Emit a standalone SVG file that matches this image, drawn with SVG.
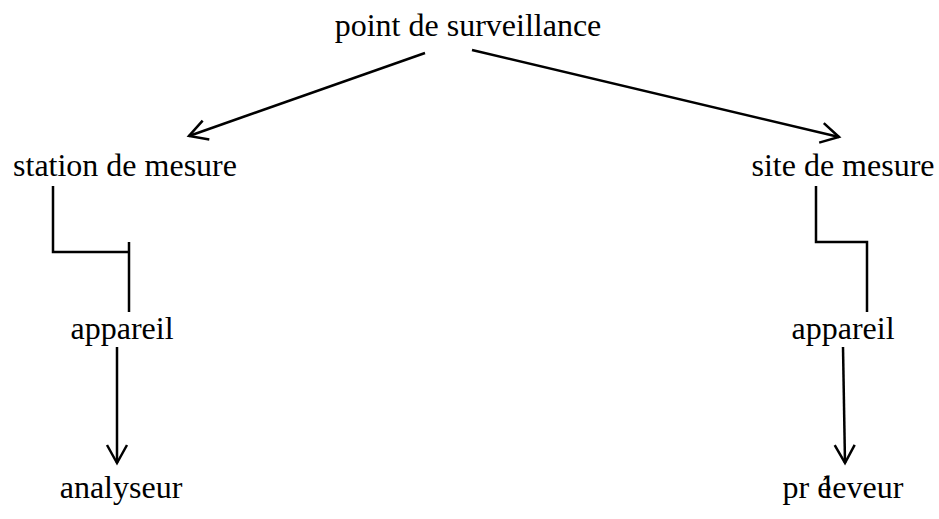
<svg xmlns="http://www.w3.org/2000/svg" width="939" height="519" viewBox="0 0 939 519">
<style>
text { font-family: "Liberation Serif", "Times New Roman", serif; font-size: 32px; fill: #000; text-anchor: middle; }
.c { fill: none; stroke: #000; stroke-width: 2.5; }
</style>
<defs>
<marker id="ah" markerUnits="userSpaceOnUse" markerWidth="40" markerHeight="40" viewBox="-25 -20 40 40" refX="0" refY="0" orient="auto">
<path d="M-18,-10 L0,0 L-18,10" fill="none" stroke="#000" stroke-width="2.5"/>
</marker>
</defs>
<rect width="939" height="519" fill="#fff"/>
<g id="connectors">
<line class="c" x1="425" y1="53" x2="189" y2="136" marker-end="url(#ah)"/>
<line class="c" x1="472" y1="50" x2="839" y2="137" marker-end="url(#ah)"/>
<polyline class="c" points="53,186 53,252 129,252"/>
<line class="c" x1="129" y1="242" x2="129" y2="312"/>
<polyline class="c" points="816,186 816,242 867,242 867,312"/>
<line class="c" x1="117" y1="347" x2="117" y2="463" marker-end="url(#ah)"/>
<line class="c" x1="843" y1="347" x2="845" y2="463" marker-end="url(#ah)"/>
</g>
<g id="node-point"><text x="468" y="36">point de surveillance</text></g>
<g id="node-station"><text x="125" y="176">station de mesure</text></g>
<g id="node-site"><text x="843" y="176">site de mesure</text></g>
<g id="node-appareil-left"><text x="122" y="339">appareil</text></g>
<g id="node-appareil-right"><text x="843" y="339">appareil</text></g>
<g id="node-analyseur"><text x="121" y="498">analyseur</text></g>
<g id="node-preleveur"><text x="843" y="498">pr é<tspan dx="-8">l</tspan>eveur</text></g>
</svg>
